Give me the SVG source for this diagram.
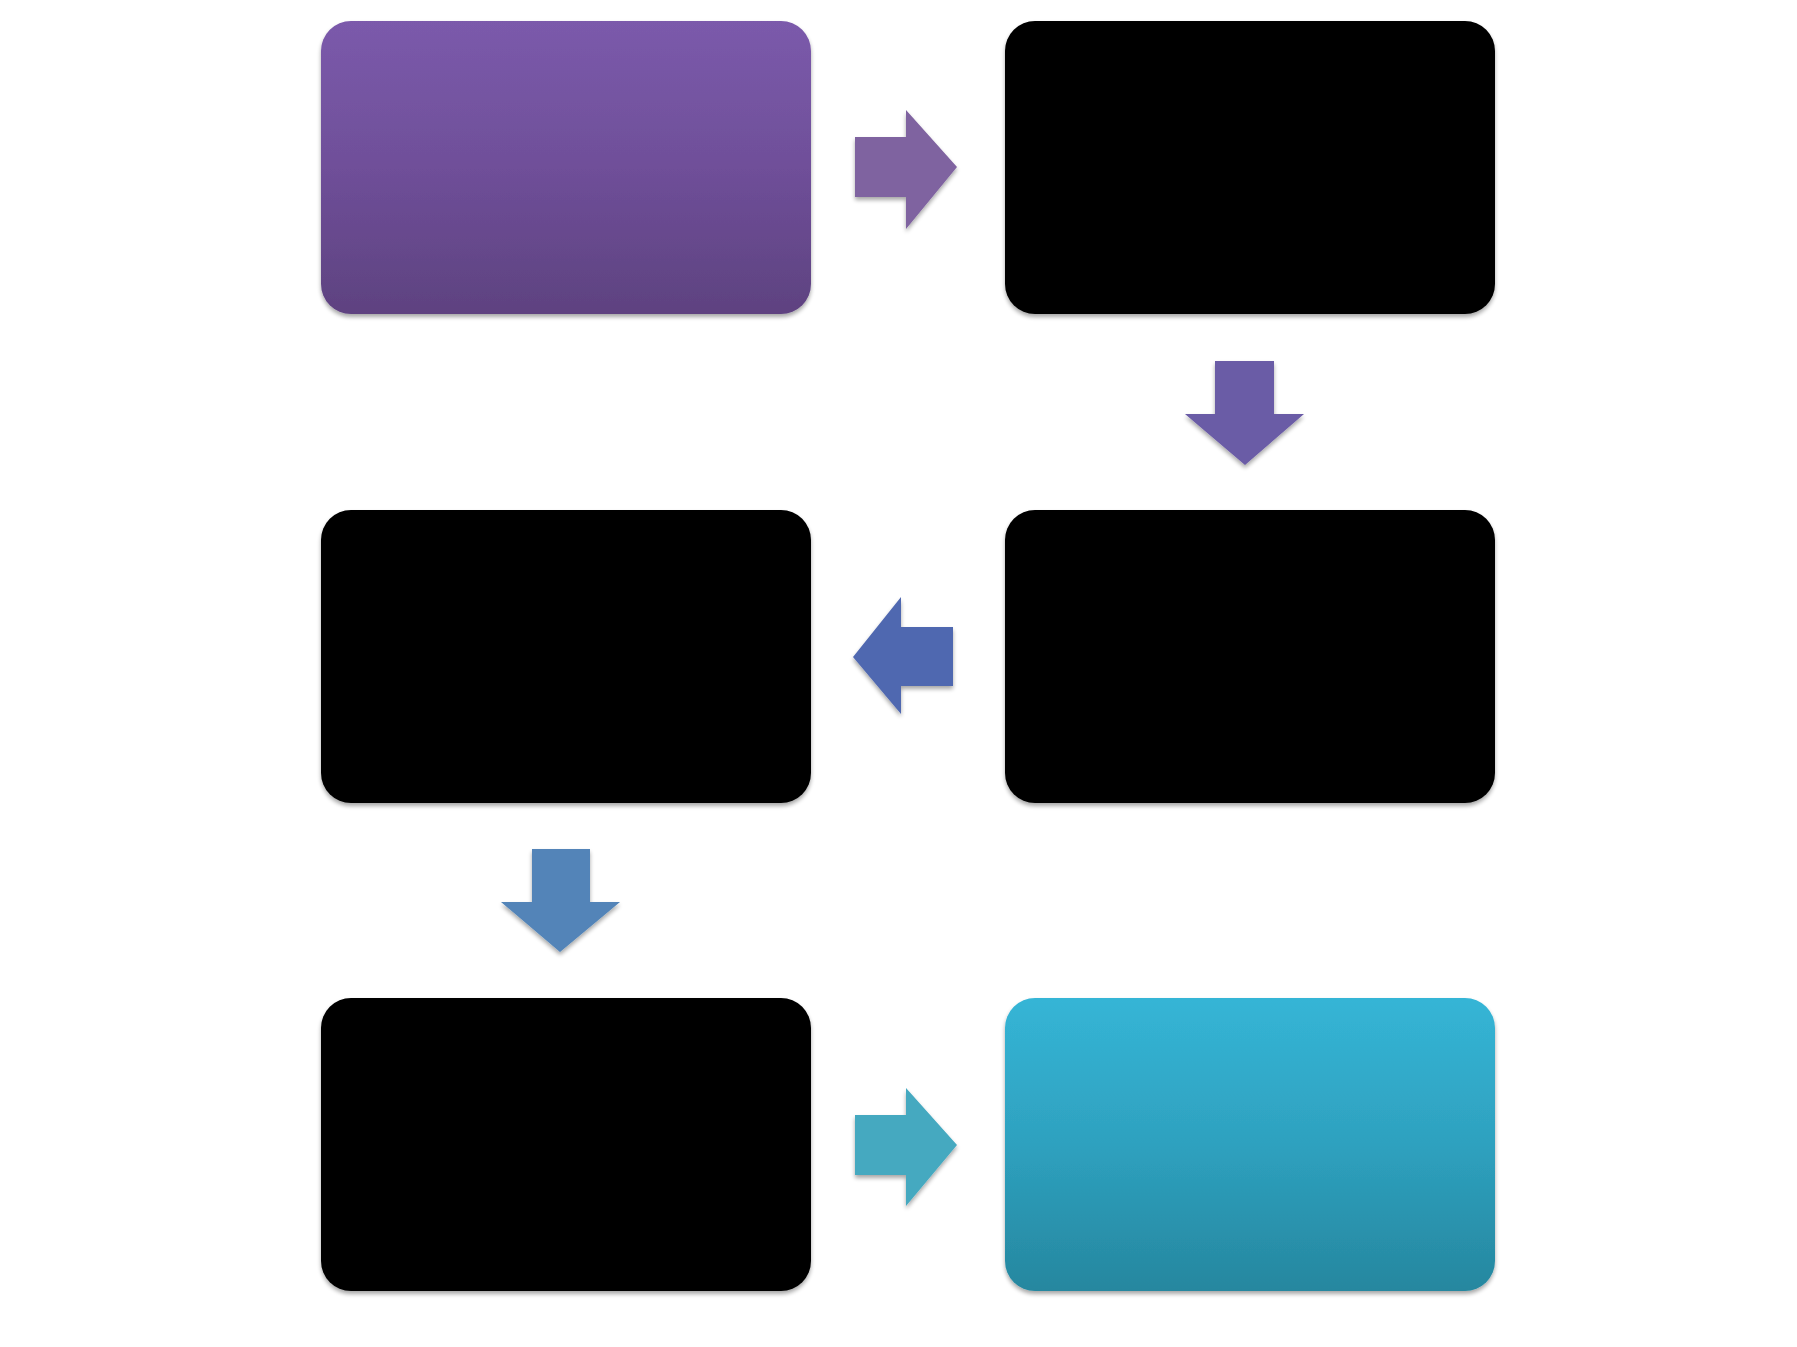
<svg xmlns="http://www.w3.org/2000/svg" width="1797" height="1347" viewBox="0 0 1797 1347">
<defs>
<linearGradient id="gPurple" x1="0" y1="0" x2="0" y2="1">
<stop offset="0" stop-color="#7b5aab"/>
<stop offset="0.5" stop-color="#6f4f99"/>
<stop offset="1" stop-color="#5e4280"/>
</linearGradient>
<linearGradient id="gTeal" x1="0" y1="0" x2="0" y2="1">
<stop offset="0" stop-color="#35b5d6"/>
<stop offset="0.5" stop-color="#2ea1bf"/>
<stop offset="1" stop-color="#26879f"/>
</linearGradient>
<filter id="sh" x="-5%" y="-5%" width="110%" height="115%">
<feGaussianBlur in="SourceAlpha" stdDeviation="2"/>
<feOffset dx="0" dy="3" result="b"/>
<feComponentTransfer><feFuncA type="linear" slope="0.35"/></feComponentTransfer>
<feMerge><feMergeNode/><feMergeNode in="SourceGraphic"/></feMerge>
</filter>
</defs>
<style>
.box{filter:url(#sh);}
.arr{filter:url(#sh);}
</style>
<rect width="1797" height="1347" fill="#ffffff"/>
<g id="node1"><rect class="box" x="321" y="21" width="490" height="293" rx="30" fill="url(#gPurple)"/></g>
<g id="node2"><rect class="box" x="1005" y="21" width="490" height="293" rx="30" fill="#000000"/></g>
<g id="node3"><rect class="box" x="1005" y="510" width="490" height="293" rx="30" fill="#000000"/></g>
<g id="node4"><rect class="box" x="321" y="510" width="490" height="293" rx="30" fill="#000000"/></g>
<g id="node5"><rect class="box" x="321" y="998" width="490" height="293" rx="30" fill="#000000"/></g>
<g id="node6"><rect class="box" x="1005" y="998" width="490" height="293" rx="30" fill="url(#gTeal)"/></g>
<g id="connectors">
<polygon class="arr" fill="#7f63a0" points="855,137 906,137 906,110 957,167 906,229 906,197 855,197"/>
<polygon class="arr" fill="#6a5ba6" points="1215,361 1274,361 1274,414 1304,414 1245,465 1185,414 1215,414"/>
<polygon class="arr" fill="#5068b0" points="953,627 901,627 901,597 853,657 901,714 901,686 953,686"/>
<polygon class="arr" fill="#5284b8" points="532,849 590,849 590,902 620,902 560,952 501,902 532,902"/>
<polygon class="arr" fill="#45a9c0" points="855,1115 906,1115 906,1088 957,1145 906,1206 906,1175 855,1175"/>
</g>
</svg>
